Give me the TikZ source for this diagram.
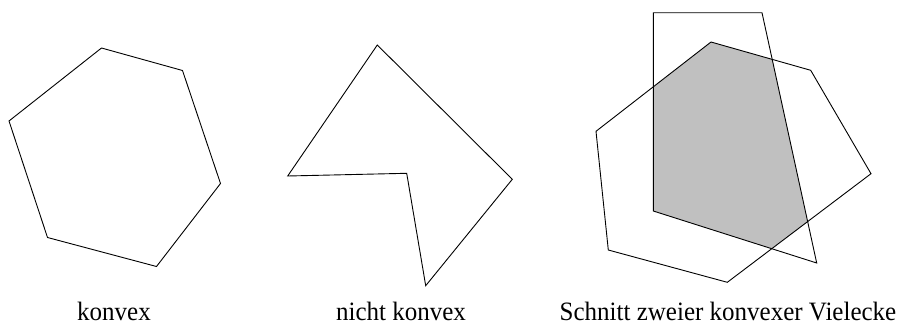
\documentclass[tikz,border=0pt]{standalone}
\usepackage{fontspec}
\setmainfont{Liberation Serif}
\begin{document}
\begin{tikzpicture}[x=1pt,y=-1pt,
  poly/.style={draw=black,line width=0.9pt,line join=miter},
  lbl/.style={anchor=base,inner sep=0pt,text depth=0pt,yscale=1.06,font=\fontsize{25}{30}\selectfont}]
\useasboundingbox (0,0) rectangle (903,324);
% convex hexagon
\draw[poly] (101.5,48) -- (182.5,70.5) -- (220.5,183.5) -- (156.5,266.5) -- (47.5,237.5) -- (9,121) -- cycle;
% non-convex polygon
\draw[poly] (377.3,45) -- (512.3,179.3) -- (425.7,285.7) -- (406.7,173.3) -- (287.7,176) -- cycle;
% intersection
\begin{scope}
  \clip (653.3,12.7) -- (762,12.7) -- (816.7,263) -- (653.3,211) -- cycle;
  \fill[fill={rgb,255:red,192;green,192;blue,192}] (711,42) -- (810.7,70.3) -- (871,173.7) -- (727.3,282.3) -- (608.3,250) -- (596,131.3) -- cycle;
\end{scope}
\draw[poly] (711,42) -- (810.7,70.3) -- (871,173.7) -- (727.3,282.3) -- (608.3,250) -- (596,131.3) -- cycle;
\draw[poly] (653.3,12.7) -- (762,12.7) -- (816.7,263) -- (653.3,211) -- cycle;
% labels
\node[lbl] (l1) at (114,320) {konvex};
\node[lbl] (l2) at (401,320) {nicht konvex};
\node[lbl] (l3) at (728,320) {Schnitt zweier konvexer Vielecke};
\end{tikzpicture}
\end{document}
